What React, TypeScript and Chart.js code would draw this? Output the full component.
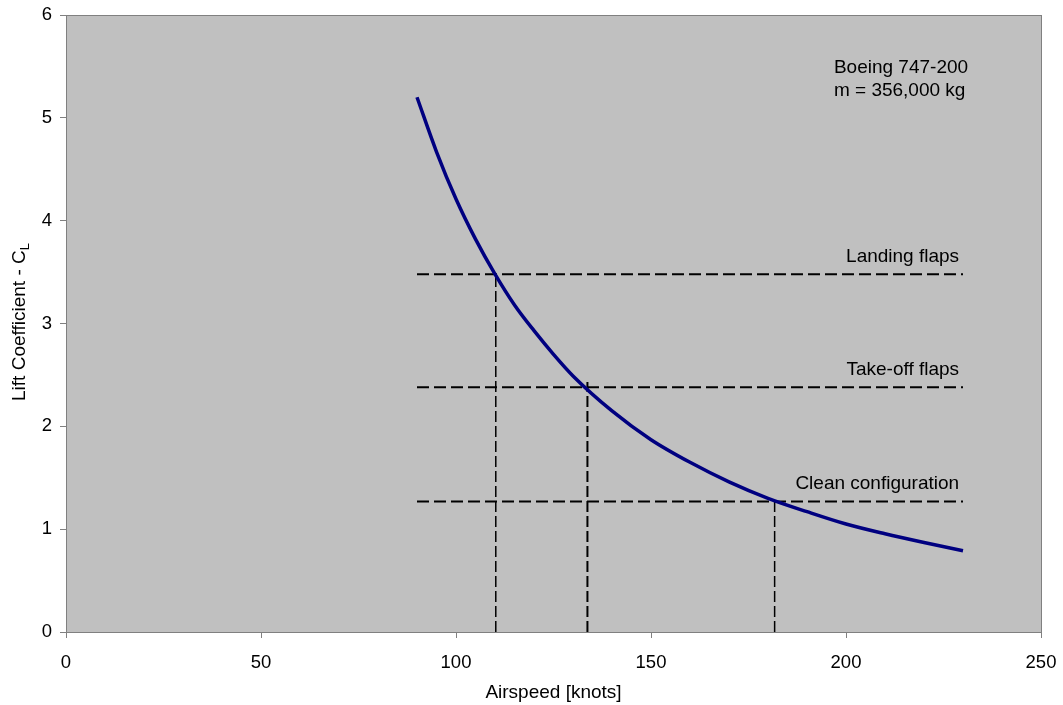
import React, { useEffect, useRef } from "react";
import { Chart, registerables } from "chart.js";

Chart.register(...registerables);

// Curve: airspeed [knots] vs lift coefficient
const airspeed = [90, 95, 100, 105, 110, 115, 120, 125, 130, 140, 150, 160, 170, 180, 190, 200, 210, 220, 230];
const liftCoefficient = [5.2, 4.67, 4.21, 3.82, 3.48, 3.18, 2.93, 2.7, 2.49, 2.15, 1.87, 1.65, 1.46, 1.3, 1.17, 1.05, 0.955, 0.87, 0.79];

// Configuration lines
const configNames = ["Landing flaps", "Take-off flaps", "Clean configuration"];
const configCL = [3.48, 2.38, 1.27];
const configSpeed = [110.2, 133.7, 181.7];
const configVerticalTop = [3.5, 2.43, 1.31];
const lineStart = 90;
const lineEnd = 230;

const xTicks = [0, 50, 100, 150, 200, 250];
const yTicks = [0, 1, 2, 3, 4, 5, 6];

const infoLines = ["Boeing 747-200", "m = 356,000 kg"];

const FONT = "'Liberation Sans', Arial, Helvetica, sans-serif";

function zeroPad(scale: any) {
  scale.paddingTop = 0;
  scale.paddingBottom = 0;
  scale.paddingLeft = 0;
  scale.paddingRight = 0;
}

export default function App() {
  const ref = useRef<HTMLCanvasElement | null>(null);

  useEffect(() => {
    const canvas = ref.current;
    if (!canvas) return;

    const datasets: any[] = [
      {
        label: "CL",
        data: airspeed.map((v, i) => ({ x: v, y: liftCoefficient[i] })),
        showLine: true,
        borderColor: "#000080",
        borderWidth: 3.5,
        pointRadius: 0,
        cubicInterpolationMode: "monotone",
        order: 0,
      },
    ];
    configCL.forEach((cl, i) => {
      datasets.push({
        label: configNames[i],
        data: [
          { x: lineStart, y: cl },
          { x: lineEnd, y: cl },
        ],
        showLine: true,
        borderColor: "#000000",
        borderWidth: 2,
        borderDash: [12, 5],
        pointRadius: 0,
        order: 1,
      });
      datasets.push({
        label: configNames[i] + " speed",
        data: [
          { x: configSpeed[i], y: 0 },
          { x: configSpeed[i], y: configVerticalTop[i] },
        ],
        showLine: true,
        borderColor: "#000000",
        borderWidth: i === 1 ? 2 : 1.5,
        borderDash: [11, 4],
        pointRadius: 0,
        order: 1,
      });
    });

    const bgPlugin = {
      id: "bg",
      beforeDraw(chart: any) {
        const { ctx, chartArea: a } = chart;
        ctx.save();
        ctx.fillStyle = "#C0C0C0";
        ctx.fillRect(a.left, a.top, a.right - a.left, a.bottom - a.top);
        ctx.restore();
      },
      afterDraw(chart: any) {
        const { ctx, chartArea: a, scales } = chart;
        const xs = scales.x;
        const ys = scales.y;
        ctx.save();
        ctx.strokeStyle = "#808080";
        ctx.lineWidth = 1;
        ctx.strokeRect(Math.round(a.left) + 0.5, Math.round(a.top) + 0.5, Math.round(a.right - a.left), Math.round(a.bottom - a.top));

        ctx.fillStyle = "#000000";
        // Config labels
        ctx.font = `19px ${FONT}`;
        ctx.textAlign = "right";
        ctx.textBaseline = "middle";
        configNames.forEach((n, i) => {
          ctx.fillText(n, xs.getPixelForValue(229), ys.getPixelForValue(configCL[i] + 0.17));
        });
        // Info lines
        ctx.textAlign = "left";
        ctx.fillText(infoLines[0], xs.getPixelForValue(196.9), ys.getPixelForValue(5.485));
        ctx.fillText(infoLines[1], xs.getPixelForValue(196.9), ys.getPixelForValue(5.26));

        // X title
        ctx.textAlign = "center";
        ctx.fillText("Airspeed [knots]", (a.left + a.right) / 2, 693);

        // Y title with subscript
        const main = "Lift Coefficient - C";
        const sub = "L";
        ctx.font = `19px ${FONT}`;
        const wMain = ctx.measureText(main).width;
        ctx.font = `13px ${FONT}`;
        const wSub = ctx.measureText(sub).width;
        const total = wMain + wSub;
        ctx.translate(20, 322);
        ctx.rotate(-Math.PI / 2);
        ctx.textAlign = "left";
        ctx.font = `19px ${FONT}`;
        ctx.fillText(main, -total / 2, 0);
        ctx.font = `13px ${FONT}`;
        ctx.fillText(sub, -total / 2 + wMain, 5);
        ctx.restore();
      },
    };

    const chart = new Chart(canvas, {
      type: "scatter",
      data: { datasets },
      plugins: [bgPlugin],
      options: {
        animation: false,
        responsive: false,
        maintainAspectRatio: false,
        layout: { padding: { top: 15, right: 22, left: 0, bottom: 0 } },
        plugins: {
          legend: { display: false },
          tooltip: { enabled: false },
          title: { display: false },
        },
        scales: {
          x: {
            type: "linear",
            min: 0,
            max: 250,
            afterBuildTicks(scale: any) {
              scale.ticks = xTicks.map((v) => ({ value: v }));
            },
            afterFit(scale: any) {
              scale.height = 73;
              zeroPad(scale);
            },
            ticks: {
              color: "#000000",
              font: { family: FONT, size: 18.5 },
              padding: 14,
              maxRotation: 0,
            },
            grid: {
              drawOnChartArea: false,
              drawTicks: true,
              tickLength: 6,
              color: "#808080",
            },
            border: { display: true, color: "#808080", width: 1 },
          },
          y: {
            type: "linear",
            min: 0,
            max: 6,
            afterBuildTicks(scale: any) {
              scale.ticks = yTicks.map((v) => ({ value: v }));
            },
            afterFit(scale: any) {
              scale.width = 66;
              zeroPad(scale);
            },
            ticks: {
              color: "#000000",
              font: { family: FONT, size: 18.5 },
              padding: 8,
            },
            grid: {
              drawOnChartArea: false,
              drawTicks: true,
              tickLength: 6,
              color: "#808080",
            },
            border: { display: true, color: "#808080", width: 1 },
          },
        },
      } as any,
    });

    return () => chart.destroy();
  }, []);

  return (
    <div style={{ position: "fixed", left: 0, top: 0, width: 1063, height: 705, background: "#ffffff" }}>
      <canvas ref={ref} width={1063} height={705} style={{ display: "block", width: 1063, height: 705 }} />
    </div>
  );
}
